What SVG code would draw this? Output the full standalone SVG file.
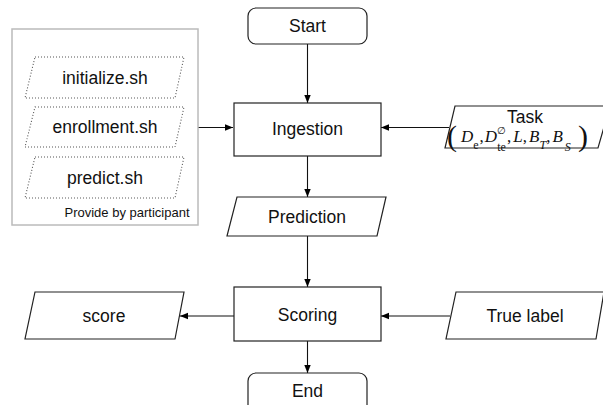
<svg xmlns="http://www.w3.org/2000/svg" width="603" height="405" viewBox="0 0 603 405">
<defs>
<marker id="ah" viewBox="0 0 10 10" refX="10" refY="5" markerWidth="8" markerHeight="8" markerUnits="userSpaceOnUse" orient="auto">
<path d="M0,1 L10,5 L0,9 Z" fill="#000"/>
</marker>
</defs>
<style>
.box{fill:#fff;stroke:#222;stroke-width:1.2}
.dot{fill:none;stroke:#555;stroke-width:1.1;stroke-dasharray:1 2}
.lbl{font-family:"Liberation Sans",Arial,sans-serif;font-size:17.5px;fill:#111;text-anchor:middle;dominant-baseline:central}
.small{font-family:"Liberation Sans",Arial,sans-serif;font-size:13px;fill:#111;text-anchor:middle;dominant-baseline:central}
.m{font-family:"Liberation Serif","Times New Roman",serif;fill:#111}
.i{font-style:italic}
.sub{font-size:12px}
.conn{stroke:#111;stroke-width:1.1;fill:none;marker-end:url(#ah)}
</style>
<rect width="603" height="405" fill="#fff"/>
<g id="connectors">
<line class="conn" x1="307.5" y1="44" x2="307.5" y2="103"/>
<line class="conn" x1="198" y1="127.5" x2="233" y2="127.5"/>
<line class="conn" x1="449" y1="127.5" x2="381" y2="127.5"/>
<line class="conn" x1="307.5" y1="156" x2="307.5" y2="197"/>
<line class="conn" x1="307.5" y1="236" x2="307.5" y2="287"/>
<line class="conn" x1="234" y1="316" x2="180" y2="316"/>
<line class="conn" x1="450" y1="316" x2="381" y2="316"/>
<line class="conn" x1="307.5" y1="341" x2="307.5" y2="373"/>
</g>
<g id="participant">
<rect x="12" y="29" width="186" height="196" fill="#fff" stroke="#bbb" stroke-width="1.5"/>
<text class="small" x="127" y="212">Provide by participant</text>
</g>
<g id="initialize">
<polygon class="dot" points="35,57 184,57 175,98 25,98"/>
<text class="lbl" x="105" y="77.5">initialize.sh</text>
</g>
<g id="enrollment">
<polygon class="dot" points="35,107 184,107 175,147 25,147"/>
<text class="lbl" x="105" y="127">enrollment.sh</text>
</g>
<g id="predict">
<polygon class="dot" points="35,157 184,157 175,198 25,198"/>
<text class="lbl" x="105" y="177.5">predict.sh</text>
</g>
<g id="start">
<rect class="box" x="248" y="8" width="119" height="36" rx="8"/>
<text class="lbl" x="307.5" y="26">Start</text>
</g>
<g id="ingestion">
<rect class="box" x="234" y="103" width="147" height="53"/>
<text class="lbl" x="307.5" y="129">Ingestion</text>
</g>
<g id="task">
<polygon class="box" points="455,106 610,106 598,148 445,148"/>
<text class="lbl" x="525" y="117">Task</text>
<text class="m" font-size="30" x="447" y="146">(</text>
<text class="m" font-size="17" x="461" y="142"><tspan class="i">D</tspan><tspan class="sub" dy="7">e</tspan><tspan dy="-7" dx="1">,</tspan><tspan class="i" dx="1">D</tspan><tspan class="sub" dy="9">te</tspan><tspan font-size="10" dx="-8.7" dy="-17">∅</tspan><tspan dy="8" dx="1">,</tspan><tspan class="i" dx="2">L</tspan><tspan>,</tspan><tspan class="i" dx="2">B</tspan><tspan class="sub i" dy="7">T</tspan><tspan dy="-7">,</tspan><tspan class="i" dx="2">B</tspan><tspan class="sub i" dy="9" dx="2">S</tspan></text>
<text class="m" font-size="30" x="578" y="146">)</text>
</g>
<g id="prediction">
<polygon class="box" points="237,197 386,197 377,236 227,236"/>
<text class="lbl" x="307" y="217">Prediction</text>
</g>
<g id="scoring">
<rect class="box" x="234" y="287" width="147" height="54"/>
<text class="lbl" x="307.5" y="315">Scoring</text>
</g>
<g id="score">
<polygon class="box" points="35,292 184,292 175,339 25,339"/>
<text class="lbl" x="104" y="316">score</text>
</g>
<g id="truelabel">
<polygon class="box" points="456,292 604,292 596,339 446,339"/>
<text class="lbl" x="525" y="316">True label</text>
</g>
<g id="end">
<rect class="box" x="248" y="373" width="119" height="40" rx="8"/>
<text class="lbl" x="307.5" y="391">End</text>
</g>
</svg>
